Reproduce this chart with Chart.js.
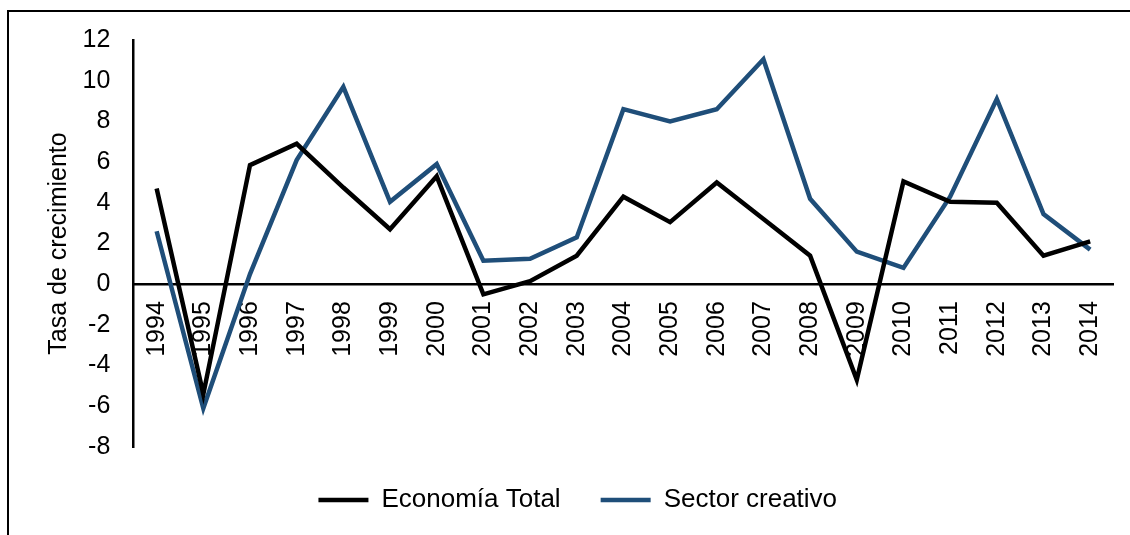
<!DOCTYPE html>
<html>
<head>
<meta charset="utf-8">
<script src="https://cdn.jsdelivr.net/npm/chart.js@4/dist/chart.umd.min.js"></script>
<style>
	html, body { margin: 0; padding: 0; background: #fff; }
	#wrap { position: relative; width: 1130px; height: 535px; overflow: hidden; }
	#frame {
		position: absolute; left: 7px; top: 10px; width: 1200px; height: 600px;
		border-top: 2px solid #000; border-left: 2px solid #000; pointer-events: none;
	}
</style>
</head>
<body>
<div id="wrap">
	<canvas id="chart" width="1130" height="535"></canvas>
	<div id="frame"></div>
</div>
<script>
	"use strict";
	const years = ["1994", "1995", "1996", "1997", "1998", "1999", "2000", "2001", "2002", "2003", "2004",
		"2005", "2006", "2007", "2008", "2009", "2010", "2011", "2012", "2013", "2014"];
	const economiaTotal = [4.7, -5.4, 5.85, 6.9, 4.75, 2.7, 5.3, -0.5, 0.15, 1.4, 4.3,
		3.05, 5.0, 3.2, 1.4, -4.7, 5.05, 4.05, 4.0, 1.4, 2.1];
	const sectorCreativo = [2.6, -6.1, 0.5, 6.1, 9.7, 4.05, 5.9, 1.15, 1.25, 2.3, 8.6,
		8.0, 8.6, 11.05, 4.2, 1.6, 0.8, 4.3, 9.1, 3.45, 1.7];
	const yMin = -8;
	const yMax = 12;
	const yStep = 2;

	const sFont = "'Liberation Sans', Arial, Helvetica, sans-serif";
	const sBlue = "#1f4e79";

	const ctx = document.getElementById("chart");
	new Chart(ctx, {
		type: "line",
		data: {
			labels: years,
			datasets: [{
				label: "Economía Total",
				data: economiaTotal,
				borderColor: "#000",
				backgroundColor: "#000",
				borderWidth: 4.5,
				pointRadius: 0,
				tension: 0
			}, {
				label: "Sector creativo",
				data: sectorCreativo,
				borderColor: sBlue,
				backgroundColor: sBlue,
				borderWidth: 4.5,
				pointRadius: 0,
				tension: 0
			}]
		},
		options: {
			responsive: false,
			animation: false,
			devicePixelRatio: 1,
			layout: {
				padding: { left: 42, right: 16.5, top: 40, bottom: 12 }
			},
			scales: {
				x: {
					type: "category",
					position: { y: 0 },
					offset: true,
					grid: { display: false, drawTicks: false },
					border: { display: true, color: "#000", width: 2.5 },
					ticks: {
						minRotation: 90,
						maxRotation: 90,
						autoSkip: false,
						padding: 17,
						color: "#000",
						font: { family: sFont, size: 25 }
					},
					// the rotated year labels must not push the plot edges inwards
					afterFit: function (scale) {
						scale.paddingLeft = 0;
						scale.paddingRight = 0;
					}
				},
				y: {
					min: yMin,
					max: yMax,
					grid: { display: false, drawTicks: false },
					border: { display: true, color: "#000", width: 2.5 },
					ticks: {
						stepSize: yStep,
						padding: 23,
						color: "#000",
						font: { family: sFont, size: 25 }
					},
					title: {
						display: true,
						text: "Tasa de crecimiento",
						color: "#000",
						padding: { top: 2, bottom: 0 },
						font: { family: sFont, size: 25 }
					},
					afterFit: function (scale) {
						scale.width = 133.3 - 42;
					}
				}
			},
			plugins: {
				legend: {
					position: "bottom",
					labels: {
						boxWidth: 50,
						boxHeight: 0,
						padding: 40,
						color: "#000",
						font: { family: sFont, size: 26 }
					}
				},
				tooltip: { enabled: false }
			}
		}
	});
</script>
</body>
</html>
